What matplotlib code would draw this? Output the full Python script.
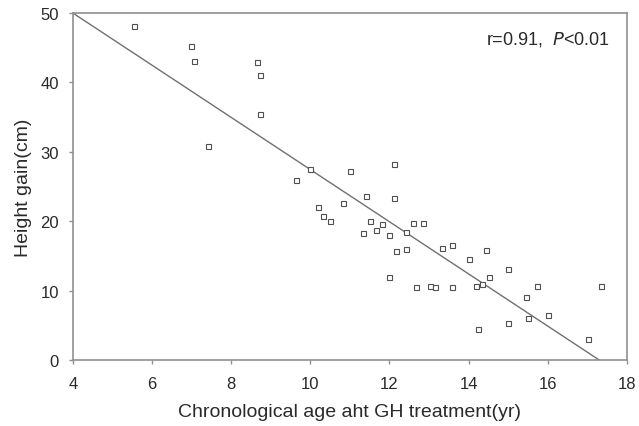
import numpy as np
from matplotlib import pyplot as plt

# Data
age = [5.54, 6.98, 7.06, 8.65, 8.73, 8.73, 7.41, 9.64, 10.0, 11.0,
       12.11, 11.42, 12.11, 10.19, 10.32, 10.50, 10.82, 11.50, 11.81, 11.67,
       11.32, 11.98, 12.60, 12.85, 12.42, 12.17, 12.42, 13.33, 13.59, 14.44,
       14.01, 11.98, 12.67, 13.02, 13.16, 13.59, 14.19, 14.33, 14.51, 15.00,
       15.74, 15.45, 15.50, 16.0, 15.0, 14.25, 17.03, 17.35]
gain = [48.1, 45.2, 43.1, 42.9, 41.0, 35.4, 30.8, 25.9, 27.5, 27.2,
        28.2, 23.6, 23.4, 22.1, 20.8, 20.0, 22.6, 20.0, 19.6, 18.8,
        18.3, 18.0, 19.7, 19.8, 18.5, 15.7, 16.0, 16.2, 16.5, 15.9,
        14.6, 11.9, 10.5, 10.6, 10.5, 10.5, 10.6, 10.9, 12.0, 13.1,
        10.7, 9.1, 6.0, 6.5, 5.3, 4.5, 3.0, 10.6]

# regression line end points
fit_x = [4.0, 17.3]
fit_y = [50.0, 0.0]

xticks = [4, 6, 8, 10, 12, 14, 16, 18]
yticks = [0, 10, 20, 30, 40, 50]

txt_col = '#2a2a2a'
plt.rcParams['font.family'] = ['Liberation Sans', 'DejaVu Sans']

fig = plt.figure(figsize=(6.39, 4.27), dpi=100)
ax = fig.add_axes([0.114, 0.1546, 0.867, 0.8126])

ax.plot(fit_x, fit_y, color='#707070', lw=1.0)
ax.plot(age, gain, 's', ms=3.6, mfc='white', mec='#505050', mew=0.8)

ax.set_xlim(4, 18)
ax.set_ylim(0, 50)
ax.set_xticks(xticks)
ax.set_yticks(yticks)
ax.tick_params(labelsize=12, length=3, width=1, color='#909090', labelcolor=txt_col)
ax.tick_params(axis='x', pad=8.5)
ax.tick_params(axis='y', pad=7)

for s in ax.spines.values():
    s.set_color('#909090')
    s.set_linewidth(1.2)

ax.set_xlabel('Chronological age aht GH treatment(yr)', fontsize=14, labelpad=9, color=txt_col)
ax.set_ylabel('Height gain(cm)', fontsize=14, labelpad=6, color=txt_col)

ax.text(0.97, 0.955, r'r=0.91,  $\it{P}$<0.01', transform=ax.transAxes,
        ha='right', va='top', fontsize=13, color=txt_col)

#plt.show()
plt.savefig('out.png', dpi=100)
